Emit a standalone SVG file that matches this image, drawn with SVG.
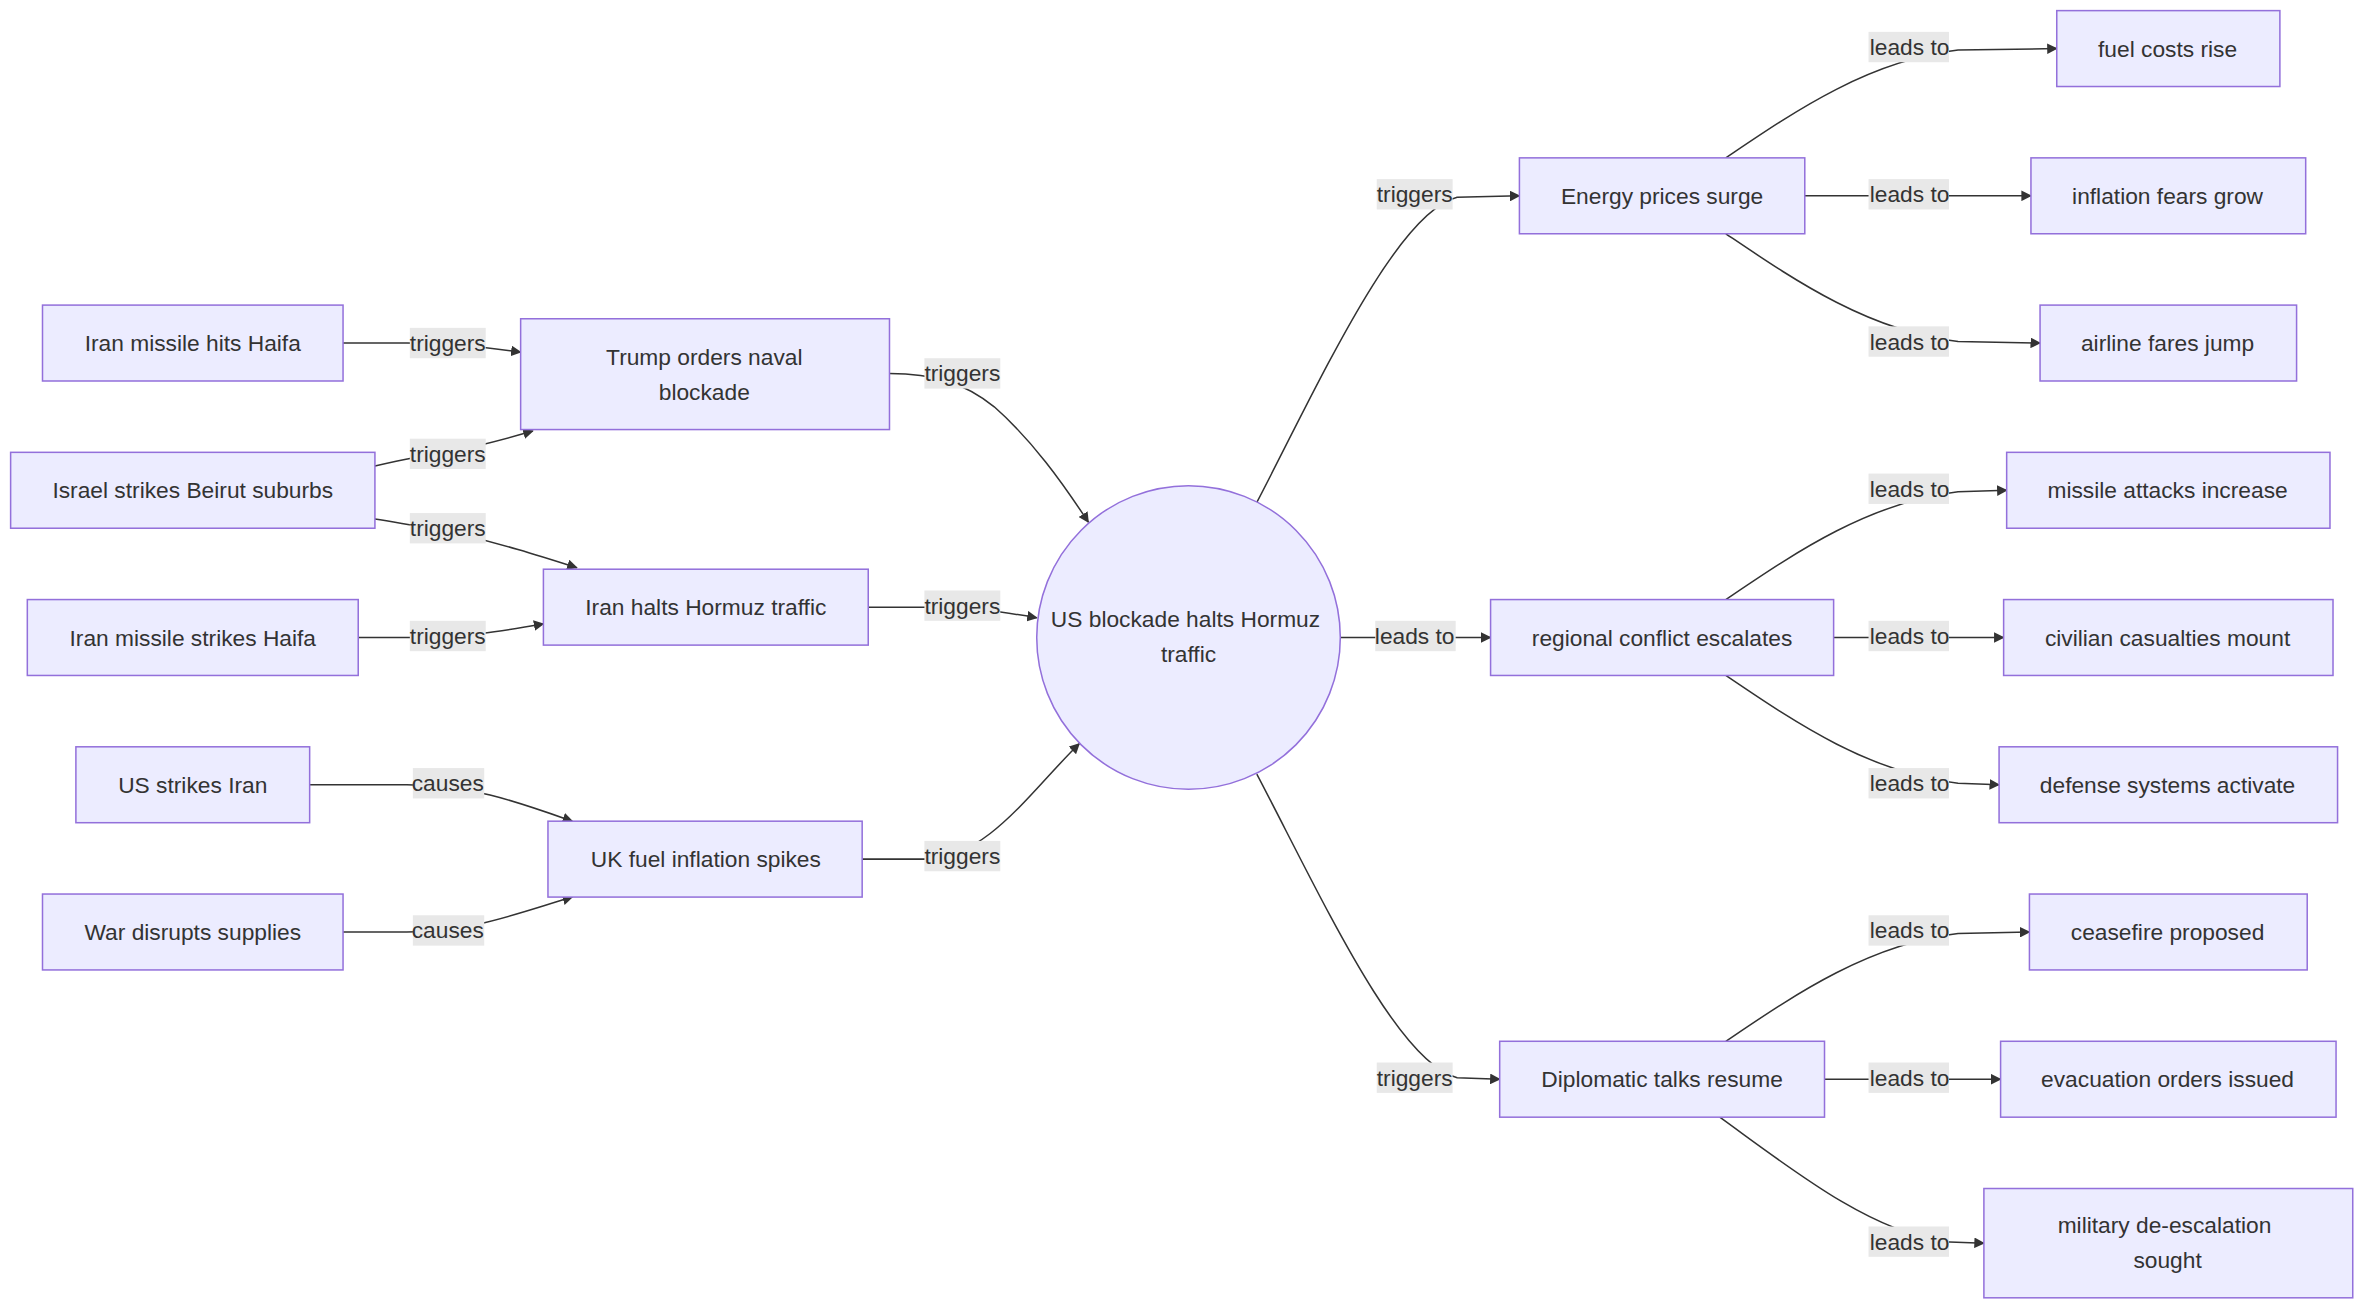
<svg xmlns="http://www.w3.org/2000/svg" width="2368" height="1314" viewBox="0 0 2368 1314">
<style>
.n rect,.n circle{fill:#ECECFF;stroke:#9370DB;stroke-width:1}
.n text{font-family:"Liberation Sans",Arial,sans-serif;font-size:15px;fill:#333;text-anchor:middle;dominant-baseline:central}
.e path{fill:none;stroke:#333;stroke-width:1}
.l rect{fill:#e8e8e8}
.l text{font-family:"Liberation Sans",Arial,sans-serif;font-size:15px;fill:#333;text-anchor:middle;dominant-baseline:central}
</style>
<defs>
<marker id="ah" viewBox="0 0 10 10" refX="9" refY="5" markerWidth="7" markerHeight="7" orient="auto"><path d="M0,0L10,5L0,10z" fill="#333"/></marker>
</defs>
<rect width="2368" height="1314" fill="#fff"/>
<g transform="scale(1.5179)">
<g id="connectors" class="e">
<path marker-end="url(#ah)" d="M226,226 L268,226 C300,226 320,229 343,232"/>
<path marker-end="url(#ah)" d="M247,307 C265,303 280,300 295,298 C315,294 330,290 351,284"/>
<path marker-end="url(#ah)" d="M247,342 C265,345 280,347 295,350 C330,358 355,366 380,374"/>
<path marker-end="url(#ah)" d="M236,420 L270,420 C305,420 330,416 358,411"/>
<path marker-end="url(#ah)" d="M204,517 L268,517 C310,517 340,528 377,541"/>
<path marker-end="url(#ah)" d="M226,614 L268,614 C310,614 340,602 377,591"/>
<path marker-end="url(#ah)" d="M586,246 C615,246 635,252 655,268 C680,290 700,318 717,344"/>
<path marker-end="url(#ah)" d="M572,400 L610,400 C640,400 660,403 683,407"/>
<path marker-end="url(#ah)" d="M568,566 L610,566 C650,566 680,520 711,490"/>
<path marker-end="url(#ah)" d="M828,331 C870,250 920,140 960,130 L1001,129"/>
<path marker-end="url(#ah)" d="M883,420 L982,420"/>
<path marker-end="url(#ah)" d="M828,510 C870,590 920,700 960,710 L988,711"/>
<path marker-end="url(#ah)" d="M1137,104 C1180,75 1230,40 1290,33 L1355,32"/>
<path marker-end="url(#ah)" d="M1189,129 L1338,129"/>
<path marker-end="url(#ah)" d="M1137,154 C1180,183 1230,218 1290,225 L1344,226"/>
<path marker-end="url(#ah)" d="M1137,395 C1180,366 1230,331 1290,324 L1322,323"/>
<path marker-end="url(#ah)" d="M1208,420 L1320,420"/>
<path marker-end="url(#ah)" d="M1137,445 C1180,474 1230,509 1290,516 L1317,517"/>
<path marker-end="url(#ah)" d="M1137,686 C1180,657 1230,622 1290,615 L1337,614"/>
<path marker-end="url(#ah)" d="M1202,711 L1318,711"/>
<path marker-end="url(#ah)" d="M1133,736 C1180,770 1230,810 1280,818 L1307,819"/>
</g>
<g id="labels" class="l">
<g><rect x="270" y="216" width="50" height="20"/><text x="295" y="226">triggers</text></g>
<g><rect x="270" y="289" width="50" height="20"/><text x="295" y="299">triggers</text></g>
<g><rect x="270" y="338" width="50" height="20"/><text x="295" y="348">triggers</text></g>
<g><rect x="270" y="409" width="50" height="20"/><text x="295" y="419">triggers</text></g>
<g><rect x="272" y="506" width="47" height="20"/><text x="295" y="516">causes</text></g>
<g><rect x="272" y="603" width="47" height="20"/><text x="295" y="613">causes</text></g>
<g><rect x="609" y="236" width="50" height="20"/><text x="634" y="246">triggers</text></g>
<g><rect x="609" y="389" width="50" height="20"/><text x="634" y="399">triggers</text></g>
<g><rect x="609" y="554" width="50" height="20"/><text x="634" y="564">triggers</text></g>
<g><rect x="907" y="118" width="50" height="20"/><text x="932" y="128">triggers</text></g>
<g><rect x="906" y="409" width="53" height="20"/><text x="932" y="419">leads to</text></g>
<g><rect x="907" y="700" width="50" height="20"/><text x="932" y="710">triggers</text></g>
<g><rect x="1231" y="21" width="53" height="20"/><text x="1258" y="31">leads to</text></g>
<g><rect x="1231" y="118" width="53" height="20"/><text x="1258" y="128">leads to</text></g>
<g><rect x="1231" y="215" width="53" height="20"/><text x="1258" y="225">leads to</text></g>
<g><rect x="1231" y="312" width="53" height="20"/><text x="1258" y="322">leads to</text></g>
<g><rect x="1231" y="409" width="53" height="20"/><text x="1258" y="419">leads to</text></g>
<g><rect x="1231" y="506" width="53" height="20"/><text x="1258" y="516">leads to</text></g>
<g><rect x="1231" y="603" width="53" height="20"/><text x="1258" y="613">leads to</text></g>
<g><rect x="1231" y="700" width="53" height="20"/><text x="1258" y="710">leads to</text></g>
<g><rect x="1231" y="808" width="53" height="20"/><text x="1258" y="818">leads to</text></g>
</g>
<g id="n1" class="n"><rect x="28" y="201" width="198" height="50"/><text x="127" y="226">Iran missile hits Haifa</text></g>
<g id="n2" class="n"><rect x="7" y="298" width="240" height="50"/><text x="127" y="323">Israel strikes Beirut suburbs</text></g>
<g id="n3" class="n"><rect x="18" y="395" width="218" height="50"/><text x="127" y="420">Iran missile strikes Haifa</text></g>
<g id="n4" class="n"><rect x="50" y="492" width="154" height="50"/><text x="127" y="517">US strikes Iran</text></g>
<g id="n5" class="n"><rect x="28" y="589" width="198" height="50"/><text x="127" y="614">War disrupts supplies</text></g>
<g id="n6" class="n"><rect x="343" y="210" width="243" height="73"/><text x="464" y="235">Trump orders naval</text><text x="464" y="258">blockade</text></g>
<g id="n7" class="n"><rect x="358" y="375" width="214" height="50"/><text x="465" y="400">Iran halts Hormuz traffic</text></g>
<g id="n8" class="n"><rect x="361" y="541" width="207" height="50"/><text x="465" y="566">UK fuel inflation spikes</text></g>
<g id="n9" class="n"><circle cx="783" cy="420" r="100"/><text x="781" y="408">US blockade halts Hormuz</text><text x="783" y="431">traffic</text></g>
<g id="n10" class="n"><rect x="1001" y="104" width="188" height="50"/><text x="1095" y="129">Energy prices surge</text></g>
<g id="n11" class="n"><rect x="982" y="395" width="226" height="50"/><text x="1095" y="420">regional conflict escalates</text></g>
<g id="n12" class="n"><rect x="988" y="686" width="214" height="50"/><text x="1095" y="711">Diplomatic talks resume</text></g>
<g id="n13" class="n"><rect x="1355" y="7" width="147" height="50"/><text x="1428" y="32">fuel costs rise</text></g>
<g id="n14" class="n"><rect x="1338" y="104" width="181" height="50"/><text x="1428" y="129">inflation fears grow</text></g>
<g id="n15" class="n"><rect x="1344" y="201" width="169" height="50"/><text x="1428" y="226">airline fares jump</text></g>
<g id="n16" class="n"><rect x="1322" y="298" width="213" height="50"/><text x="1428" y="323">missile attacks increase</text></g>
<g id="n17" class="n"><rect x="1320" y="395" width="217" height="50"/><text x="1428" y="420">civilian casualties mount</text></g>
<g id="n18" class="n"><rect x="1317" y="492" width="223" height="50"/><text x="1428" y="517">defense systems activate</text></g>
<g id="n19" class="n"><rect x="1337" y="589" width="183" height="50"/><text x="1428" y="614">ceasefire proposed</text></g>
<g id="n20" class="n"><rect x="1318" y="686" width="221" height="50"/><text x="1428" y="711">evacuation orders issued</text></g>
<g id="n21" class="n"><rect x="1307" y="783" width="243" height="72"/><text x="1426" y="807">military de-escalation</text><text x="1428" y="830">sought</text></g>
</g>
</svg>
